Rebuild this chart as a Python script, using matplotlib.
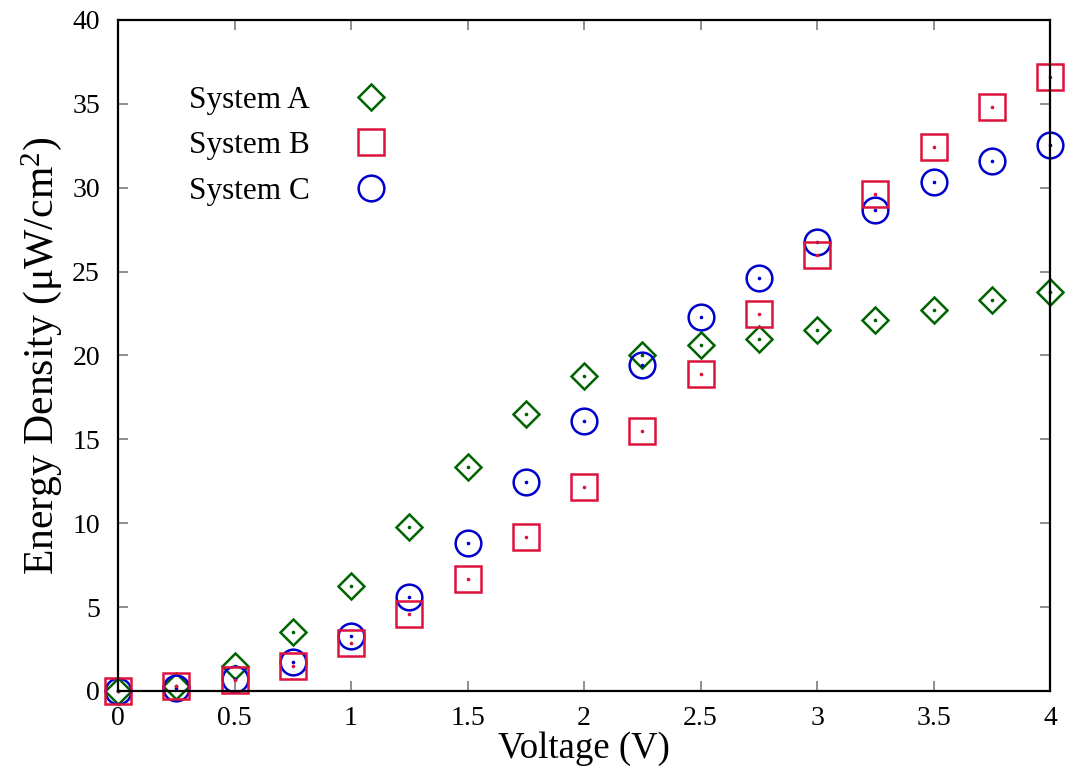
import matplotlib
matplotlib.use("Agg")
import matplotlib.pyplot as plt
from matplotlib.lines import Line2D

# ==========================================
# DATA
# ==========================================

voltage = [0, 0.25, 0.5, 0.75, 1.0, 1.25, 1.5, 1.75, 2.0,
           2.25, 2.5, 2.75, 3.0, 3.25, 3.5, 3.75, 4.0]

system_a = [0, 0.3, 1.5, 3.5, 6.25, 9.75, 13.35, 16.5, 18.8,
            20.05, 20.6, 21.0, 21.5, 22.1, 22.7, 23.3, 23.8]

system_b = [0, 0.3, 0.65, 1.5, 2.85, 4.6, 6.7, 9.2, 12.15,
            15.5, 18.9, 22.45, 26.0, 29.6, 32.45, 34.8, 36.6]

system_c = [0, 0.15, 0.7, 1.75, 3.3, 5.6, 8.8, 12.45, 16.1,
            19.45, 22.3, 24.6, 26.75, 28.7, 30.35, 31.6, 32.55]

labels = ["System A", "System B", "System C"]

# ==========================================
# STYLE
# ==========================================

plt.rcParams["font.family"] = ["Liberation Serif", "DejaVu Serif"]

green = "#006400"
red = "#dc143c"
blue = "#0000cd"

fig = plt.figure(figsize=(10.65, 7.74), dpi=100)
ax = fig.add_axes([118 / 1065, 1 - 691 / 774, 932 / 1065, 671 / 774])

# ==========================================
# SERIES (A, C, B so squares sit on top)
# ==========================================

series = [
    (system_a, "D", 13.5, green),
    (system_c, "o", 18.5, blue),
    (system_b, "s", 18.5, red),
]

for values, marker, size, color in series:

    ax.plot(
        voltage, values,
        linestyle="none",
        marker=marker,
        markersize=size,
        markerfacecolor="none",
        markeredgecolor=color,
        markeredgewidth=1.8,
        clip_on=False
    )

    ax.plot(
        voltage, values,
        linestyle="none",
        marker="o",
        markersize=1.6,
        color=color,
        clip_on=False
    )

# ==========================================
# AXES
# ==========================================

ax.set_xlim(0, 4)
ax.set_ylim(0, 40)

ax.set_xticks([0, 0.5, 1, 1.5, 2, 2.5, 3, 3.5, 4])
ax.set_xticklabels(["0", "0.5", "1", "1.5", "2", "2.5", "3", "3.5", "4"])
ax.set_yticks(range(0, 41, 5))

ax.tick_params(
    direction="in",
    length=7,
    width=1.1,
    color="#707070",
    labelsize=20,
    top=True,
    right=True
)
ax.tick_params(axis="x", pad=11)
ax.tick_params(axis="y", pad=13)

for spine in ax.spines.values():
    spine.set_linewidth(1.6)

ax.set_xlabel("Voltage (V)", fontsize=26.5, labelpad=0)
ax.set_ylabel(r"Energy Density ($\mathregular{\mu W/cm^2}$)", fontsize=30, labelpad=6)

# ==========================================
# LEGEND
# ==========================================

handles = [
    Line2D([], [], linestyle="none", marker="D", markersize=13.5,
           markerfacecolor="none", markeredgecolor=green, markeredgewidth=1.8),
    Line2D([], [], linestyle="none", marker="s", markersize=18.5,
           markerfacecolor="none", markeredgecolor=red, markeredgewidth=1.8),
    Line2D([], [], linestyle="none", marker="o", markersize=18.5,
           markerfacecolor="none", markeredgecolor=blue, markeredgewidth=1.8),
]

ax.legend(
    handles, labels,
    loc="upper left",
    bbox_to_anchor=(0.063, 0.92),
    frameon=False,
    markerfirst=False,
    fontsize=22.5,
    handlelength=1.4,
    handletextpad=1.25,
    labelspacing=0.52,
    borderaxespad=0
)

fig.savefig("out.png", dpi=100)
